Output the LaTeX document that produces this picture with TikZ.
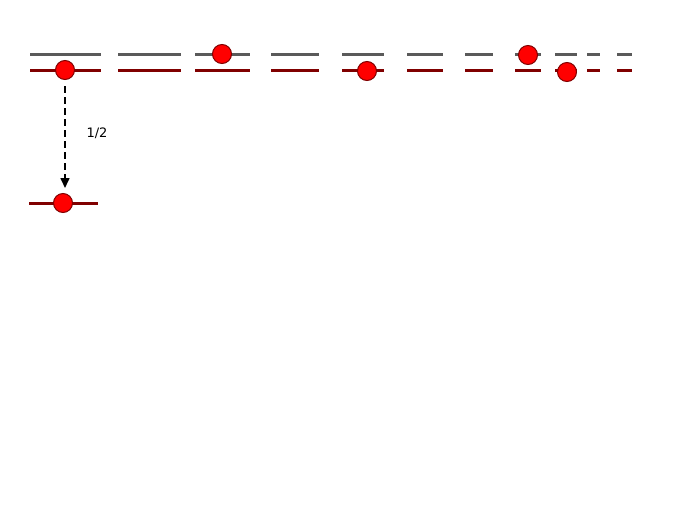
\documentclass[tikz,border=0pt]{standalone}
\usepackage{fontspec}
\setmainfont{DejaVu Sans}
\usetikzlibrary{arrows.meta}
\definecolor{lvlgray}{HTML}{5A5A5A}
\definecolor{lvlred}{HTML}{800000}
\begin{document}
\begin{tikzpicture}[x=1pt,y=-1pt,
  upper/.style={draw=lvlgray,line width=3pt},
  lower/.style={draw=lvlred,line width=3pt},
  ball/.style={circle,fill=red,draw=lvlred,line width=1pt,minimum size=19pt,inner sep=0pt},
  decay/.style={dashed,dash pattern=on 7pt off 4pt,line width=1.6pt,-{Triangle[length=10pt,width=9pt]}},
  lbl/.style={font=\fontsize{13}{15}\selectfont,inner sep=0pt}]
\useasboundingbox (0,0) rectangle (689,517);
% level pairs
\foreach \a/\b in {30/101,118/181,195/250,271/319,342/384,407/443,465/493,515/541,555/577,587/600,617/632}{
  \draw[upper] (\a,54) -- (\b,54);
  \draw[lower] (\a,70) -- (\b,70);
}
% bottom level
\draw[lower] (29,203) -- (98,203);
% particles
\node[ball] (b1) at (65,70) {};
\node[ball] (b2) at (222,54) {};
\node[ball] (b3) at (367,71) {};
\node[ball] (b4) at (528,55) {};
\node[ball] (b5) at (567,72) {};
\node[ball] (b6) at (63,203) {};
\coordinate (tip) at (65,188);
\draw[decay] ([yshift=-6pt]b1.south) -- (tip);
\node[lbl] (half) at (97,133) {1/2};
\end{tikzpicture}
\end{document}
